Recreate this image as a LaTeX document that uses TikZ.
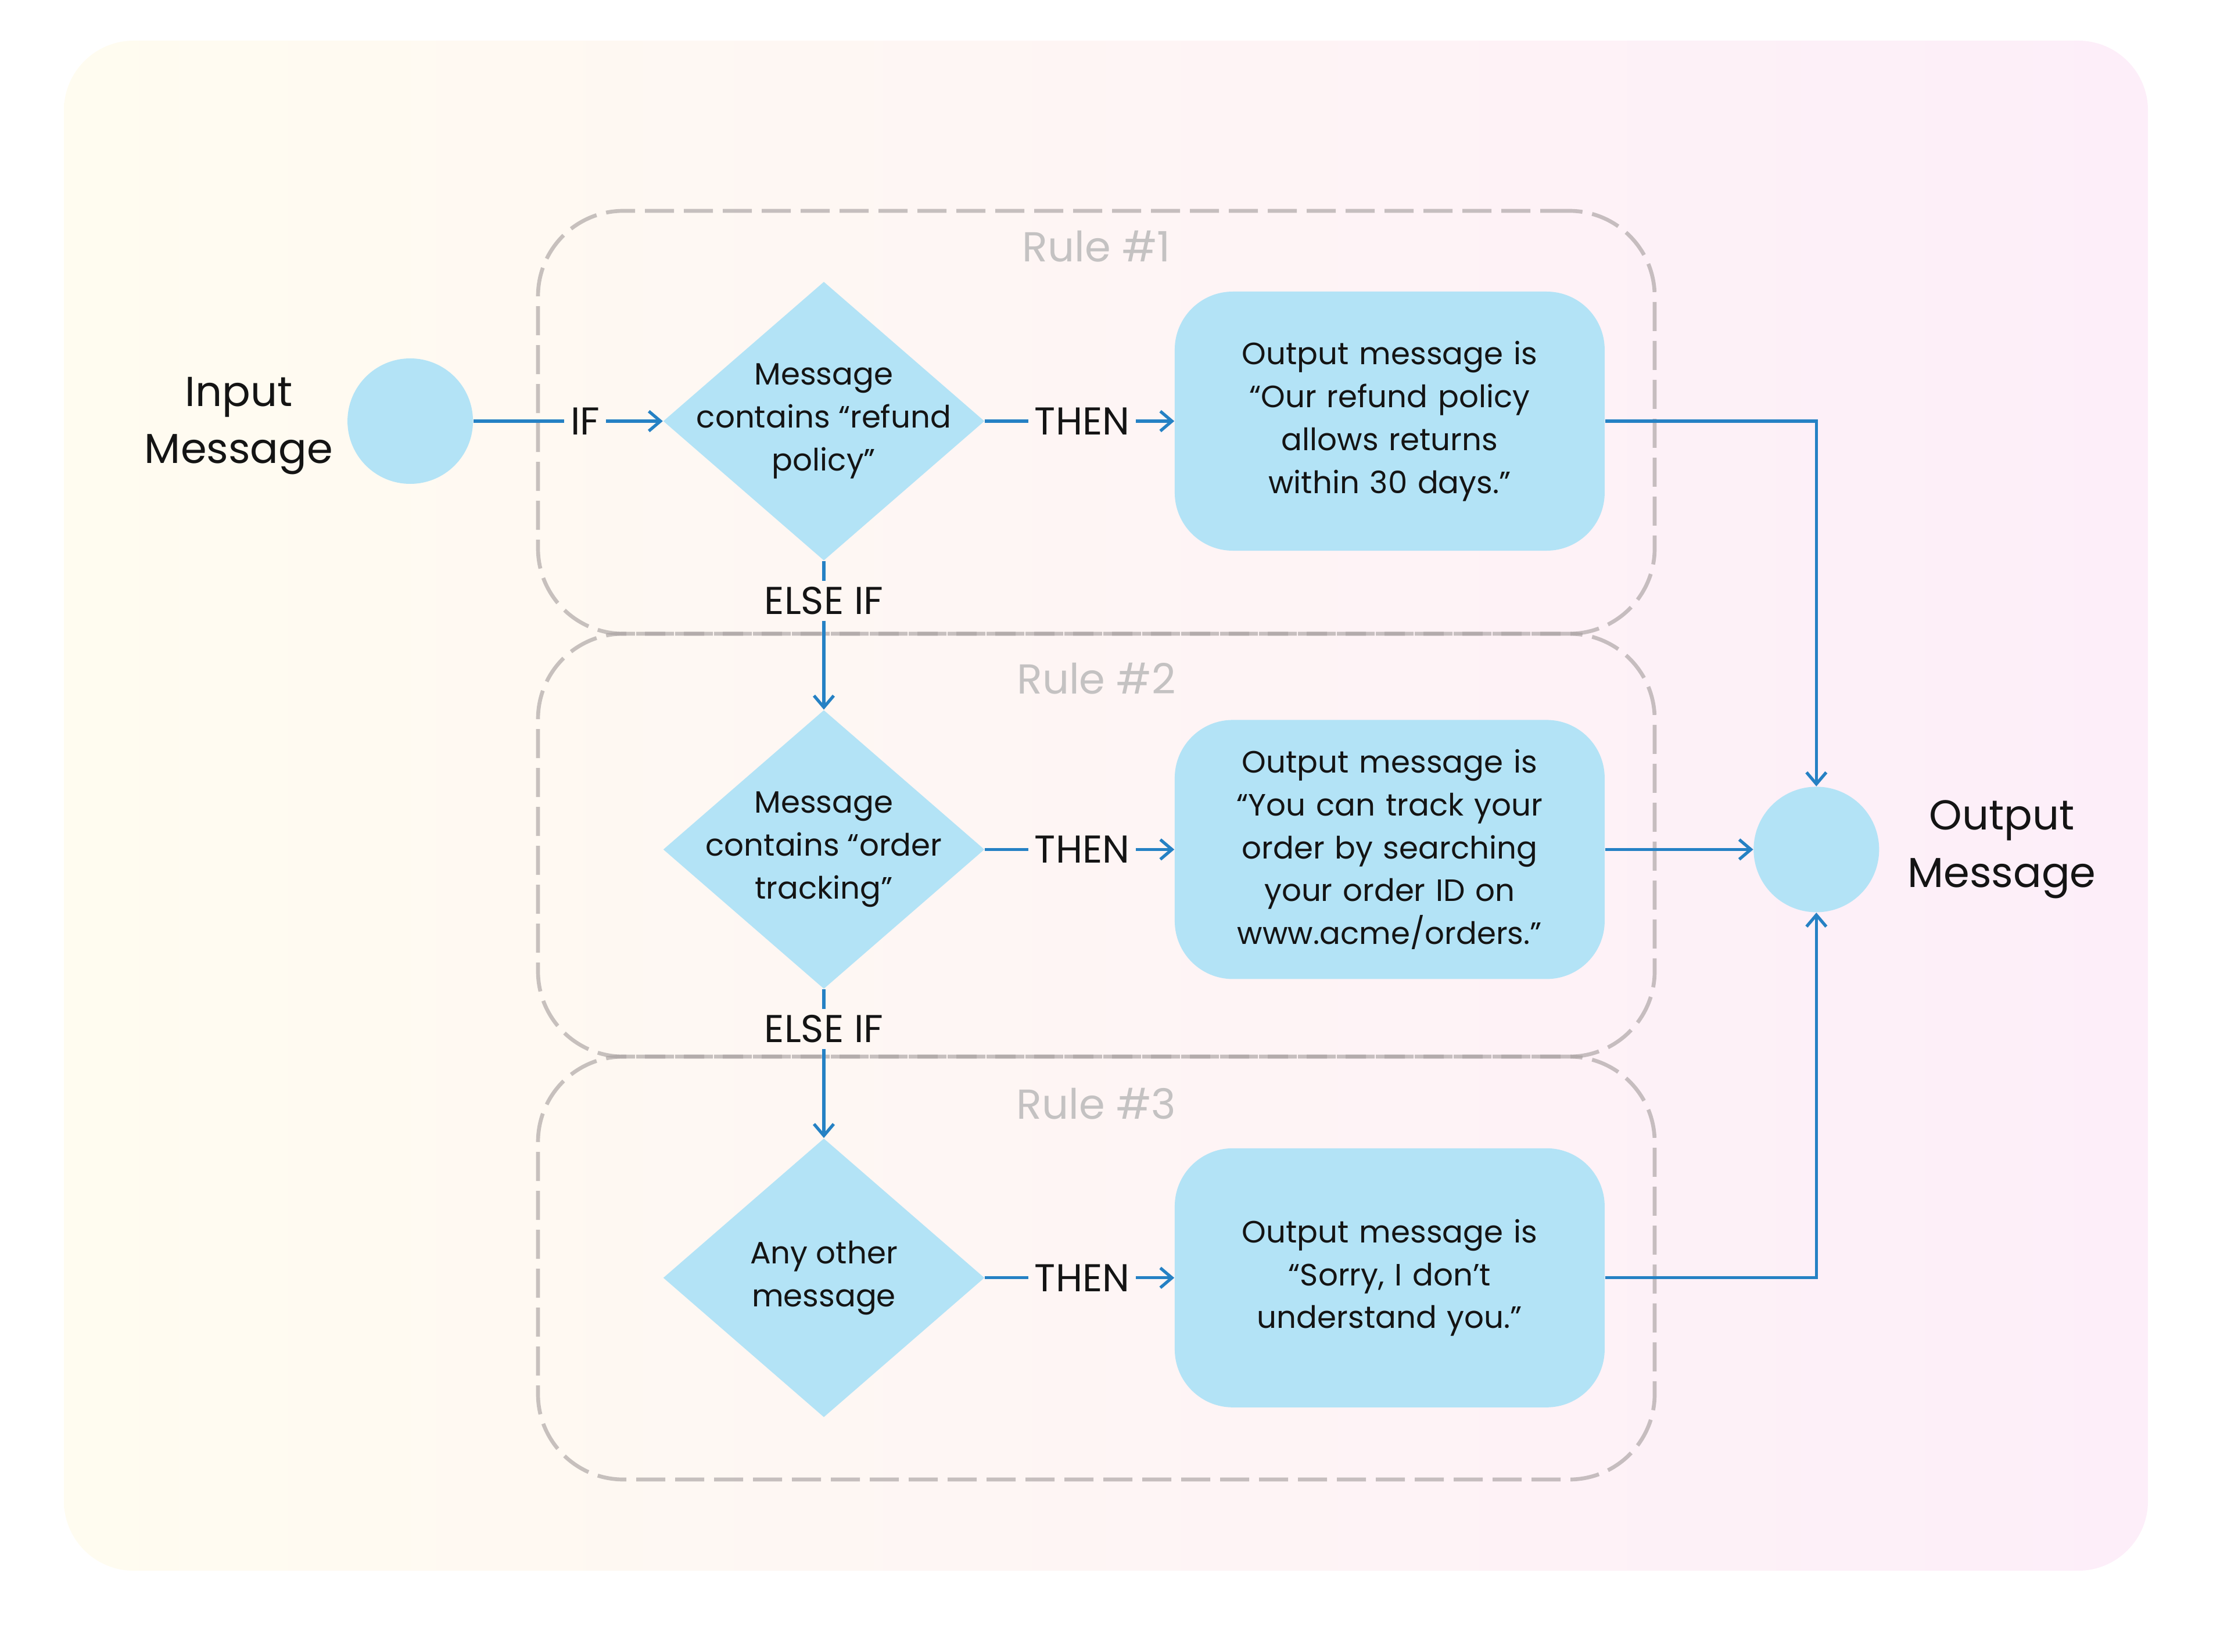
\documentclass[tikz,border=0pt]{standalone}
\usepackage{fontspec}
\setmainfont{Poppins}
\usepackage{tikz}
\usetikzlibrary{arrows.meta,positioning,shapes.geometric}
\definecolor{rsBlue}{HTML}{2581C4}
\definecolor{rsFill}{HTML}{B3E3F6}
\definecolor{rsInk}{HTML}{141414}
\definecolor{rsDash}{HTML}{A9A2A2}
\definecolor{rsTitle}{HTML}{C4C2C2}
\definecolor{rsWarm}{HTML}{FFFCF0}
\definecolor{rsMid}{HTML}{FDF7F4}
\definecolor{rsPink}{HTML}{FDEEF9}
\tikzset{
  rulebox/.style={rectangle,draw=rsDash,draw opacity=0.65,line width=1.9pt,dash pattern=on 0.5cm off 0.17cm,
    rounded corners=1.47cm,minimum width=19.22cm,minimum height=7.28cm,outer sep=0pt},
  ruletitle/.style={text=rsTitle,font=\fontsize{20.5}{24}\selectfont},
  endpoint/.style={circle,fill=rsFill,minimum size=2.16cm,inner sep=0pt},
  endlabel/.style={align=center,text=rsInk,font=\fontsize{20.5}{28}\selectfont},
  decision/.style={diamond,fill=rsFill,minimum width=5.53cm,minimum height=4.80cm,inner sep=0pt},
  dtext/.style={align=center,text=rsInk,font=\fontsize{15.1}{21}\selectfont},
  reply/.style={rectangle,fill=rsFill,rounded corners=1cm,minimum width=7.4cm,minimum height=4.46cm,
    text width=6.8cm,align=center,text=rsInk,font=\fontsize{15.1}{21}\selectfont},
  cond/.style={inner sep=0.1cm,text=rsInk,font=\fontsize{19}{22}\selectfont},
  link/.style={draw=rsBlue,line width=1.5pt},
  arrow/.style={link,-{Straight Barb[length=0.2cm,width=0.34cm]}}
}
\begin{document}
\begin{tikzpicture}[node distance=2.56cm and 3.26cm]
  % canvas
  \useasboundingbox (0,0) rectangle (38.4,-28.44);
  \shade[left color=rsWarm,middle color=rsMid,right color=rsPink,rounded corners=1.2cm]
    (1.10,-0.70) rectangle (36.97,-27.04);

  % rules
  \node[rulebox, label={[ruletitle,anchor=center,yshift=-0.61cm]north:Rule \#1}] (r1) at (18.87,-7.27) {};
  \node[rulebox, below=0cm of r1, label={[ruletitle,anchor=center,yshift=-0.77cm]north:Rule \#2}] (r2) {};
  \node[rulebox, below=0cm of r2, label={[ruletitle,anchor=center,yshift=-0.81cm]north:Rule \#3}] (r3) {};

  % checks and replies
  \node[decision, label={[dtext]center:Message\\contains “refund\\policy”}] (d1) at (14.18,-7.25) {};
  \node[decision, below=of d1, label={[dtext]center:Message\\contains “order\\tracking”}] (d2) {};
  \node[decision, below=of d2, label={[dtext]center:Any other\\message}] (d3) {};
  \node[reply, right=of d1] (o1) {Output message is\\“Our refund policy\\allows returns\\within 30 days.”};
  \node[reply, right=of d2] (o2) {Output message is\\“You can track your\\order by searching\\your order ID on\\www.acme/orders.”};
  \node[reply, right=of d3] (o3) {Output message is\\“Sorry, I don’t\\understand you.”};

  % ends
  \node[endpoint, left=of d1] (in) {};
  \node[endpoint, right=2.55cm of o2] (out) {};
  \node[endlabel, left=0.12cm of in, yshift=-0.08cm] (inlbl) {Input\\Message};
  \node[endlabel, right=0.36cm of out] (outlbl) {Output\\Message};

  % labels on the links
  \node[cond, left=0.98cm of d1] (if1) {IF};
  \node[cond, right=0.75cm of d1] (t1) {THEN};
  \node[cond, right=0.75cm of d2] (t2) {THEN};
  \node[cond, right=0.75cm of d3] (t3) {THEN};
  \node[cond, below=0.34cm of d1] (e1) {ELSE IF};
  \node[cond, below=0.34cm of d2] (e2) {ELSE IF};

  \draw[link] (in) -- (if1);
  \draw[arrow] (if1) -- (d1);
  \draw[link] (d1) -- (t1);
  \draw[arrow] (t1) -- (o1);
  \draw[link] (d2) -- (t2);
  \draw[arrow] (t2) -- (o2);
  \draw[link] (d3) -- (t3);
  \draw[arrow] (t3) -- (o3);
  \draw[link] (d1) -- (e1);
  \draw[arrow] (e1) -- (d2);
  \draw[link] (d2) -- (e2);
  \draw[arrow] (e2) -- (d3);
  \draw[arrow] (o1) -| (out);
  \draw[arrow] (o2) -- (out);
  \draw[arrow] (o3) -| (out);
\end{tikzpicture}
\end{document}
